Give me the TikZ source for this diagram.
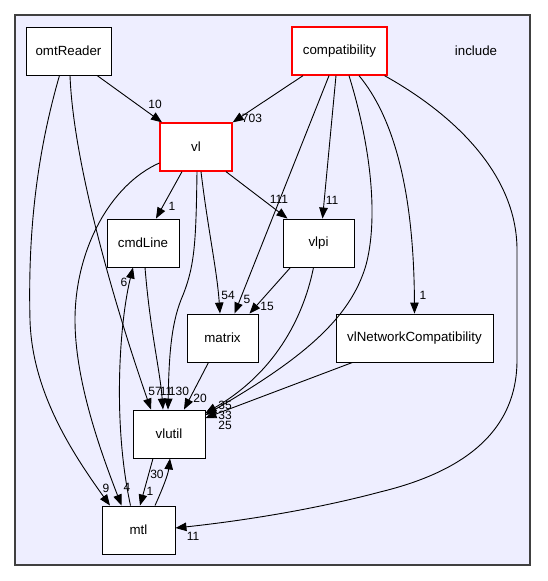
\documentclass[tikz,border=0pt]{standalone}
\usepackage{fontspec}
\setmainfont{Liberation Sans}
\usetikzlibrary{arrows.meta}
\definecolor{clusterfill}{HTML}{EEEEFF}
\definecolor{clusterline}{HTML}{404040}
\tikzset{
  dirbox/.style={draw=black, line width=0.9pt, fill=white, inner sep=0pt,
    minimum height=48pt, font=\fontsize{13.3}{15}\selectfont},
  redbox/.style={dirbox, draw=red, line width=1.3pt},
  dep/.style={draw=black, line width=0.9pt, -{Triangle[length=11pt,width=8.5pt]}},
  lbl/.style={font=\fontsize{12}{14}\selectfont, inner sep=0pt, text height=8.6pt, text depth=0pt}
}
\begin{document}
\begin{tikzpicture}[x=1pt,y=-1pt]
\useasboundingbox (0,0) rectangle (547,581);
\fill[white] (0,0) rectangle (547,581);
\draw[clusterline, line width=1.3pt, fill=clusterfill] (15,15) rectangle (530,565);
\node[font=\fontsize{13.3}{15}\selectfont] (include) at (476,51) {include};

\node[dirbox, minimum width=85pt] (omtReader) at (68.5,51) {omtReader};
\node[redbox, minimum width=95pt] (compat) at (339.5,51) {compatibility};
\node[redbox, minimum width=72pt] (vl) at (196,147) {vl};
\node[dirbox, minimum width=72pt] (cmdLine) at (143,243) {cmdLine};
\node[dirbox, minimum width=71pt] (vlpi) at (318.5,243) {vlpi};
\node[dirbox, minimum width=71pt] (matrix) at (222.5,338) {matrix};
\node[dirbox, minimum width=157pt] (vlNet) at (414.5,338) {vlNetworkCompatibility};
\node[dirbox, minimum width=72pt] (vlutil) at (169,434) {vlutil};
\node[dirbox, minimum width=73pt] (mtl) at (138.5,530) {mtl};

% edges
\draw[dep] ([xshift=28.5pt]omtReader.south) -- ([xshift=-34pt]vl.north);
\draw[dep] ([xshift=-36.5pt]compat.south) -- (vl.north east);
\draw[dep] ([xshift=-9pt]omtReader.south) .. controls (35,160) and (28,240) .. (30,320)
   .. controls (32,390) and (70,450) .. ([xshift=-28.5pt]mtl.north);
\draw[dep] ([xshift=1.5pt]omtReader.south) .. controls (74,180) and (130,350) .. ([xshift=-18pt]vlutil.north);
\draw[dep] ([xshift=-14pt]vl.south) -- ([xshift=13pt]cmdLine.north);
\draw[dep] ([xshift=5pt]vl.south) .. controls (208,230) and (217,270) .. ([xshift=-2.5pt]matrix.north);
\draw[dep] ([xshift=30pt]vl.south) -- ([xshift=-31pt]vlpi.north);
\draw[dep] ([yshift=-16pt]vl.west) .. controls (110,185) and (75,250) .. (75,320)
   .. controls (75,380) and (100,450) .. ([xshift=-17pt]mtl.north);
\draw[dep] ([xshift=-8pt]mtl.north) .. controls (112,420) and (120,320) .. ([xshift=-10pt]cmdLine.south);
\draw[dep] ([xshift=2pt]cmdLine.south) .. controls (150,330) and (160,370) .. ([xshift=-6pt]vlutil.north);
\draw[dep] ([xshift=1pt]vl.south) .. controls (196,240) and (195,265) .. (183,295)
   .. controls (172,320) and (169,350) .. ([xshift=-1pt]vlutil.north);
\draw[dep] ([xshift=-10.5pt]compat.south) -- ([xshift=12pt]matrix.north);
\draw[dep] ([xshift=-3.5pt]compat.south) -- ([xshift=4pt]vlpi.north);
\draw[dep] ([xshift=9.5pt]compat.south) .. controls (372,150) and (378,220) .. (366,265)
   .. controls (350,320) and (300,360) .. ([yshift=19pt]vlutil.east);
\draw[dep] ([xshift=19.5pt]compat.south) .. controls (400,125) and (414,210) .. (vlNet.north);
\draw[dep] ([xshift=45pt]compat.south) .. controls (455,115) and (517,175) .. (517,250)
   -- (517,360) .. controls (517,440) and (450,475) .. (380,492)
   .. controls (320,508) and (250,520) .. ([yshift=2pt]mtl.east);
\draw[dep] ([xshift=-28pt]vlpi.south) -- ([xshift=27pt]matrix.north);
\draw[dep] ([xshift=-5pt]vlpi.south) .. controls (305,310) and (280,370) .. ([yshift=21pt]vlutil.east);
\draw[dep] ([xshift=-62pt]vlNet.south) -- ([yshift=16pt]vlutil.east);
\draw[dep] ([xshift=-14pt]matrix.south) -- ([xshift=15pt]vlutil.north);
\draw[dep] ([xshift=-16pt]vlutil.south) -- ([xshift=1.5pt]mtl.north);
\draw[dep] ([xshift=16.5pt]mtl.north) .. controls (162,490) and (168,475) .. ([xshift=1pt]vlutil.south);

% labels
\node[lbl] (l1) at (155,104) {10};
\node[lbl] (l2) at (252,118) {703};
\node[lbl] (l3) at (106,488) {9};
\node[lbl] (l4) at (127,487) {4};
\node[lbl] (l5) at (172,206) {1};
\node[lbl] (l6) at (228,295) {54};
\node[lbl] (l7) at (279,199) {111};
\node[lbl] (l8) at (332,200) {11};
\node[lbl] (l9) at (247,299) {5};
\node[lbl] (l10) at (267,306) {15};
\node[lbl] (l11) at (423,295) {1};
\node[lbl] (l12) at (124,282) {6};
\node[lbl] (l13) at (155,391) {57};
\node[lbl] (l14) at (166,391) {11};
\node[lbl] (l15) at (179,391) {130};
\node[lbl] (l16) at (200,398) {20};
\node[lbl] (l17) at (225,405) {35};
\node[lbl] (l18) at (225,415) {33};
\node[lbl] (l19) at (225,425) {25};
\node[lbl] (l20) at (157,474) {30};
\node[lbl] (l21) at (150,491) {1};
\node[lbl] (l22) at (193,536) {11};
\end{tikzpicture}
\end{document}
